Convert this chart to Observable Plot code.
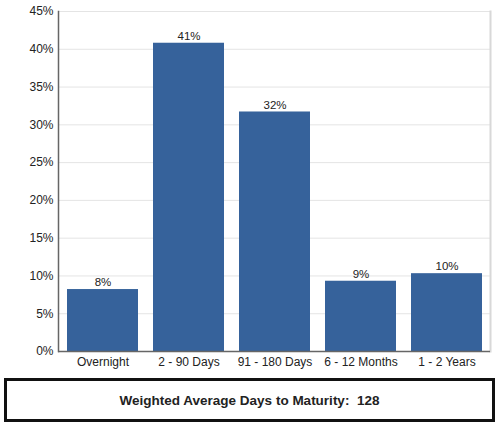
<!DOCTYPE html>
<html>
<head>
<meta charset="utf-8">
<script src="https://cdn.jsdelivr.net/npm/d3@7"></script>
<script src="https://cdn.jsdelivr.net/npm/@observablehq/plot@0.6"></script>
<style>
  html, body { margin: 0; padding: 0; background: #fff; }
  body { width: 497px; height: 425px; font-family: "Liberation Sans", Arial, sans-serif; }
  #chart svg { display: block; }
  .box {
    position: absolute; left: 4px; top: 378px; width: 485px; height: 38px;
    border: 3px solid #111; box-sizing: content-box;
    display: flex; align-items: center; justify-content: center;
    font-weight: bold; font-size: 13.5px; color: #222; white-space: pre;
  }
</style>
</head>
<body>
<div id="chart"></div>
<div class="box" id="box"></div>
<script>
const categories = ["Overnight", "2 - 90 Days", "91 - 180 Days", "6 - 12 Months", "1 - 2 Years"];
const values = [8.2, 40.8, 31.7, 9.3, 10.3];
const yTicks = [0, 5, 10, 15, 20, 25, 30, 35, 40, 45];
const footerLabel = "Weighted Average Days to Maturity:";
const footerValue = 128;

const data = categories.map((c, i) => ({category: c, value: values[i]}));

const chart = Plot.plot({
  width: 497,
  height: 372,
  marginLeft: 58,
  marginRight: 7,
  marginTop: 11,
  marginBottom: 21,
  style: {fontFamily: "'Liberation Sans', Arial, sans-serif", fontSize: "12px", color: "#222", background: "#fff"},
  x: {domain: categories, label: null, paddingInner: 0.18, paddingOuter: 0.09, tickSize: 0, tickPadding: 6},
  y: {domain: [0, 45], ticks: yTicks, tickFormat: d => d + "%", label: null, tickSize: 0, tickPadding: 5},
  marks: [
    Plot.gridY(yTicks, {stroke: "#e4e4e4", strokeOpacity: 1, strokeWidth: 1}),
    Plot.frame({anchor: "right", stroke: "#d8d8d8", strokeWidth: 2}),
    Plot.barY(data, {x: "category", y: "value", fill: "#36629b"}),
    Plot.text(data, {x: "category", y: "value", text: d => Math.round(d.value) + "%", dy: -7, fill: "#222", fontSize: 11.5}),
    Plot.ruleY([0], {stroke: "#666", strokeWidth: 1.5}),
    Plot.axisY({ticks: yTicks, tickFormat: d => d + "%", tickSize: 0, tickPadding: 5, label: null, fontSize: 12}),
    Plot.axisX({tickSize: 0, tickPadding: 6, label: null, fontSize: 12}),
    Plot.frame({anchor: "left", stroke: "#666", strokeWidth: 1.5})
  ]
});
document.getElementById("chart").appendChild(chart);
document.getElementById("box").textContent = footerLabel + "  " + footerValue;
</script>
</body>
</html>
